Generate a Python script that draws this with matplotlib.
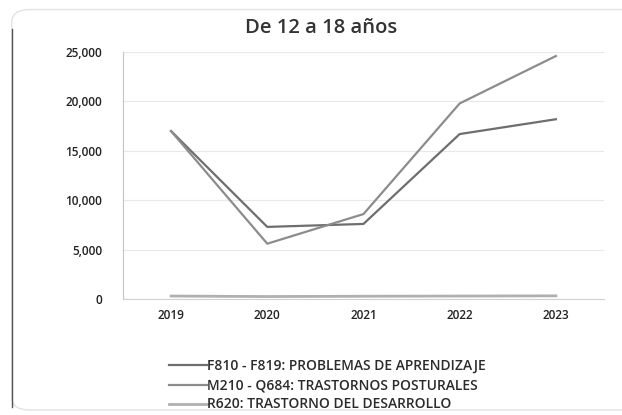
import matplotlib
matplotlib.use("Agg")
import matplotlib.pyplot as plt
from matplotlib.patches import FancyBboxPatch

years = ["2019", "2020", "2021", "2022", "2023"]
f810 = [17000, 7300, 7600, 16700, 18200]
m210 = [17000, 5600, 8600, 19800, 24600]
r620 = [300, 250, 280, 300, 320]
labels = ["F810 - F819: PROBLEMAS DE APRENDIZAJE",
          "M210 - Q684: TRASTORNOS POSTURALES",
          "R620: TRASTORNO DEL DESARROLLO"]
title = "De 12 a 18 años"

plt.rcParams['font.family'] = ['Open Sans', 'DejaVu Sans']

fig = plt.figure(figsize=(6.22, 4.15), dpi=100)
fig.patch.set_facecolor("white")

border = FancyBboxPatch((0.019, 0.012), 1.2, 0.965,
                        boxstyle="round,pad=0,rounding_size=0.03",
                        transform=fig.transFigure, facecolor="none",
                        edgecolor="#e2e2e2", linewidth=1.0)
fig.add_artist(border)
fig.add_artist(plt.Line2D([0.0195, 0.0195], [0.02, 0.93], transform=fig.transFigure,
                          color="#555555", linewidth=1.0))

ax = fig.add_axes([0.1977, 0.2795, 0.7733, 0.595])
x = list(range(len(years)))
ax.plot(x, f810, color="#6e6e6e", linewidth=1.6, label=labels[0])
ax.plot(x, m210, color="#8c8c8c", linewidth=1.6, label=labels[1])
ax.plot(x, r620, color="#b0b0b0", linewidth=2.0, label=labels[2])

ax.set_xlim(-0.5, len(years) - 0.5)
ax.set_ylim(0, 25000)
ax.set_xticks(x)
ax.set_xticklabels(years)
ax.set_yticks([0, 5000, 10000, 15000, 20000, 25000])
ax.set_yticklabels(["0", "5,000", "10,000", "15,000", "20,000", "25,000"])
ax.tick_params(axis="both", length=0, labelsize=8.5, colors="#222222")
ax.tick_params(axis="x", pad=7)
ax.tick_params(axis="y", pad=15)
for lbl in ax.get_xticklabels() + ax.get_yticklabels():
    lbl.set_fontweight("semibold")
ax.grid(axis="y", color="#e8e8e8", linewidth=0.8)
ax.set_axisbelow(True)
for s in ["top", "right"]:
    ax.spines[s].set_visible(False)
ax.spines["left"].set_color("#c4c4c4")
ax.spines["bottom"].set_color("#d0d0d0")

fig.text(0.516, 0.932, title, ha="center", va="center", fontsize=14.5,
         fontweight="semibold", color="#333333")

leg = fig.legend(loc="upper left", bbox_to_anchor=(0.263, 0.148), frameon=False,
                 fontsize=10, handlelength=2.7, handletextpad=0.05, labelspacing=0.36,
                 borderaxespad=0, labelcolor="#2b2b2b")
for t in leg.get_texts():
    t.set_fontweight("semibold")

fig.savefig("out.png", dpi=100)
